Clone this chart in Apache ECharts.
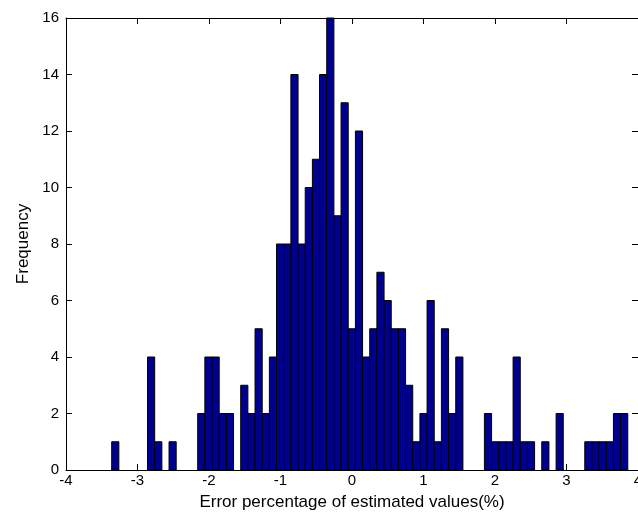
<!DOCTYPE html>
<html>
<head>
<meta charset="utf-8">
<script src="https://cdn.jsdelivr.net/npm/echarts@6/dist/echarts.min.js"></script>
<style>
  html, body { margin: 0; padding: 0; background: #fff; }
  #chart { width: 638px; height: 518px; }
</style>
</head>
<body>
<div id="chart"></div>
<script>
// histogram: 72 equal bins starting at binStart
const binStart = -3.361;
const binWidth = 0.10025;
const counts = [
  1, 0, 0, 0, 0, 4, 1, 0, 1, 0, 0, 0,
  2, 4, 4, 2, 2, 0, 3, 2, 5, 2, 4, 8,
  8, 14, 8, 10, 11, 14, 16, 9, 13, 5, 12, 4,
  5, 7, 6, 5, 5, 3, 1, 2, 6, 1, 5, 2,
  4, 0, 0, 0, 2, 1, 1, 1, 4, 1, 1, 0,
  1, 0, 2, 0, 0, 0, 1, 1, 1, 1, 2, 2
];
const xTicks = [-4, 4, 1];   // min, max, step
const yTicks = [0, 16, 2];

const bins = [];
counts.forEach((n, i) => {
  if (n > 0) {
    const lo = binStart + i * binWidth;
    bins.push([lo, lo + binWidth, n]);
  }
});

const chart = echarts.init(document.getElementById('chart'));
const font = 'Liberation Sans, Arial, sans-serif';
const lineStyle = { color: '#000', width: 1 };

const baseX = {
  type: 'value',
  min: xTicks[0],
  max: xTicks[1],
  interval: xTicks[2],
  splitLine: { show: false },
  axisLine: { show: true, onZero: false, lineStyle: lineStyle },
  axisTick: { show: true, inside: true, length: 6, lineStyle: lineStyle }
};
const baseY = {
  type: 'value',
  min: yTicks[0],
  max: yTicks[1],
  interval: yTicks[2],
  splitLine: { show: false },
  axisLine: { show: true, onZero: false, lineStyle: lineStyle },
  axisTick: { show: true, inside: true, length: 6, lineStyle: lineStyle }
};

chart.setOption({
  animation: false,
  backgroundColor: '#fff',
  grid: { left: 66, right: 0, top: 18, bottom: 48, containLabel: false, outerBoundsMode: 'none' },
  xAxis: [
    Object.assign({}, baseX, {
      position: 'bottom',
      axisLabel: {
        fontSize: 15, color: '#000', fontFamily: font, margin: 3,
        alignMinLabel: 'center', alignMaxLabel: 'center', hideOverlap: false
      },
      name: 'Error percentage of estimated values(%)',
      nameLocation: 'middle',
      nameGap: 24,
      nameTextStyle: { fontSize: 17, color: '#000', fontFamily: font }
    }),
    Object.assign({}, baseX, { position: 'top', axisLabel: { show: false } })
  ],
  yAxis: [
    Object.assign({}, baseY, {
      position: 'left',
      axisLabel: { fontSize: 15, color: '#000', fontFamily: font, margin: 7 },
      name: 'Frequency',
      nameLocation: 'middle',
      nameGap: 33,
      nameTextStyle: { fontSize: 17, color: '#000', fontFamily: font }
    }),
    Object.assign({}, baseY, { position: 'right', axisLabel: { show: false } })
  ],
  series: [
    {
      type: 'custom',
      xAxisIndex: 0,
      yAxisIndex: 0,
      encode: { x: [0, 1], y: 2 },
      data: bins,
      renderItem: function (params, api) {
        const top = api.coord([api.value(0), api.value(2)]);
        const bot = api.coord([api.value(1), 0]);
        return {
          type: 'rect',
          shape: { x: top[0], y: top[1], width: bot[0] - top[0], height: bot[1] - top[1] },
          style: { fill: '#00008f', stroke: '#000', lineWidth: 1 }
        };
      }
    }
  ]
});
</script>
</body>
</html>
